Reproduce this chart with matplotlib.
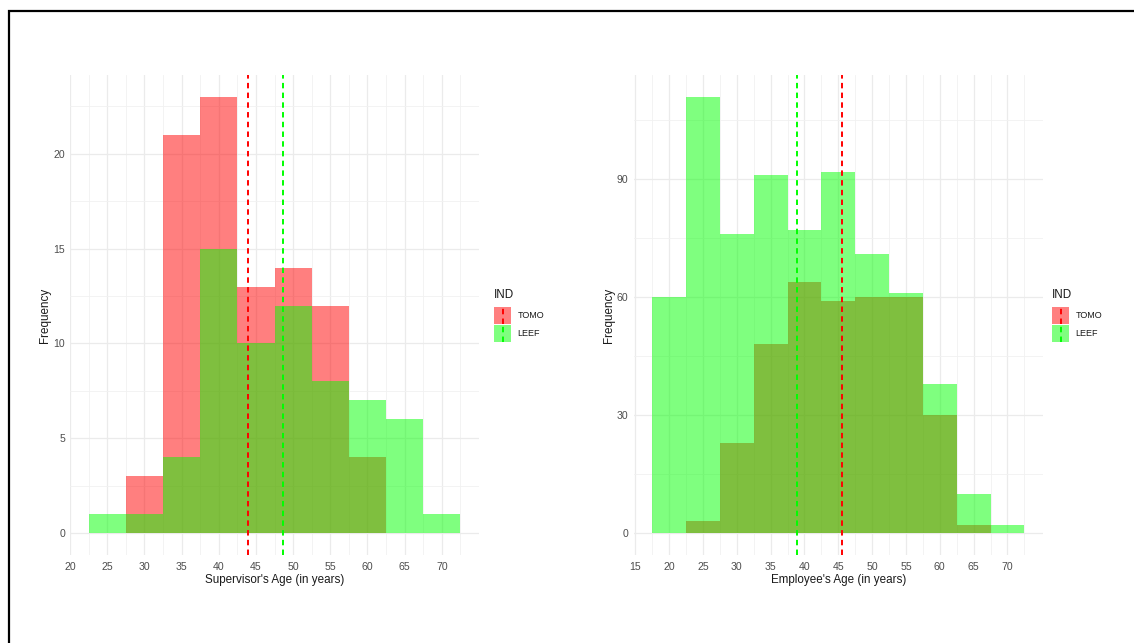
import matplotlib
matplotlib.use("Agg")
import matplotlib.pyplot as plt
import numpy as np
from matplotlib.patches import Rectangle
from matplotlib.lines import Line2D

# ---------------- data ----------------
group_labels = ["TOMO", "LEEF"]

sup_bin_centers = [25, 30, 35, 40, 45, 50, 55, 60, 65, 70]
sup_tomo = [0, 3, 21, 23, 13, 14, 12, 4, 0, 0]
sup_leef = [1, 1, 4, 15, 10, 12, 8, 7, 6, 1]
sup_means = {"TOMO": 43.9, "LEEF": 48.7}
sup_xticks = [20, 25, 30, 35, 40, 45, 50, 55, 60, 65, 70]
sup_yticks = [0, 5, 10, 15, 20]

emp_bin_centers = [20, 25, 30, 35, 40, 45, 50, 55, 60, 65, 70]
emp_tomo = [0, 3, 23, 48, 64, 59, 60, 60, 30, 2, 0]
emp_leef = [60, 111, 76, 91, 77, 92, 71, 61, 38, 10, 2]
emp_means = {"TOMO": 45.5, "LEEF": 38.9}
emp_xticks = [15, 20, 25, 30, 35, 40, 45, 50, 55, 60, 65, 70]
emp_yticks = [0, 30, 60, 90]

BIN_W = 5
COLORS = {"TOMO": "#FF0000", "LEEF": "#00FF00"}

plt.rcParams["font.family"] = ["Liberation Sans", "DejaVu Sans"]

W, H = 1134, 643
fig = plt.figure(figsize=(W / 100, H / 100), dpi=100)
fig.patch.set_facecolor("white")


def px_rect(x0, y0, x1, y1):
    return [x0 / W, 1 - y1 / H, (x1 - x0) / W, (y1 - y0) / H]


def fx(x):
    return x / W


def fy(y):
    return 1 - y / H


def panel(rect, centers, tomo, leef, means, xticks, yticks, xlabel, ylab_off_px):
    ax = fig.add_axes(rect)
    ax.set_facecolor("white")
    centers = np.asarray(centers, dtype=float)
    edges = np.concatenate([centers - BIN_W / 2, [centers[-1] + BIN_W / 2]])
    ax.stairs(tomo, edges, fill=True, color=COLORS["TOMO"], alpha=0.5, lw=0, zorder=2)
    ax.stairs(leef, edges, fill=True, color=COLORS["LEEF"], alpha=0.5, lw=0, zorder=3)
    for g in group_labels:
        ax.axvline(means[g], color=COLORS[g], lw=1.4, dashes=(2.8, 2.2), zorder=4)
    # limits with ggplot-like 5% expansion
    lo, hi = edges[0], edges[-1]
    ex = (hi - lo) * 0.05
    ax.set_xlim(lo - ex, hi + ex)
    ymax = max(max(tomo), max(leef))
    ax.set_ylim(-0.05 * ymax, 1.05 * ymax)
    ax.set_xticks(xticks)
    ax.set_yticks(yticks)
    xt = np.asarray(xticks, float)
    yt = np.asarray(yticks, float)
    step_x = xt[1] - xt[0]
    step_y = yt[1] - yt[0]
    ax.set_xticks(xt + step_x / 2, minor=True)
    ax.set_yticks(yt + step_y / 2, minor=True)
    ax.grid(which="major", color="#EBEBEB", lw=0.9, zorder=0)
    ax.grid(which="minor", color="#F1F1F1", lw=0.6, zorder=0)
    ax.set_axisbelow(True)
    for s in ax.spines.values():
        s.set_visible(False)
    ax.tick_params(which="both", length=0)
    ax.tick_params(axis="x", pad=5.0, labelsize=7.6, labelcolor="#4D4D4D")
    ax.tick_params(axis="y", pad=3.6, labelsize=7.6, labelcolor="#4D4D4D")
    ax.set_xlabel(xlabel, fontsize=8.4, color="#1A1A1A")
    ax.set_ylabel("Frequency", fontsize=8.4, color="#1A1A1A")
    axh = rect[3] * H
    axw = rect[2] * W
    ax.xaxis.set_label_coords(0.5, -24.5 / axh)
    ax.xaxis.label.set_va("center")
    ax.yaxis.set_label_coords(-ylab_off_px / axw, 0.5)
    ax.yaxis.label.set_va("center")
    return ax


ax1 = panel(px_rect(70, 75, 479, 555), sup_bin_centers, sup_tomo, sup_leef, sup_means,
            sup_xticks, sup_yticks, "Supervisor's Age (in years)", 24.5)
ax2 = panel(px_rect(633.6, 75, 1043, 555), emp_bin_centers, emp_tomo, emp_leef, emp_means,
            emp_xticks, emp_yticks, "Employee's Age (in years)", 24.6)


def legend(x_left, x_label):
    fig.text(fx(x_left), fy(295.5), "IND", fontsize=8.4, color="#1A1A1A", ha="left", va="center")
    key_y = [(307.0, 324.2), (324.8, 342.0)]
    label_y = [316.0, 333.8]
    kw = 17.6
    for g, (y0, y1), ly in zip(group_labels, key_y, label_y):
        fig.add_artist(Rectangle((fx(x_left + 0.3), fy(y1)), kw / W, (y1 - y0) / H,
                                 transform=fig.transFigure, facecolor=COLORS[g], alpha=0.5,
                                 lw=0))
        cx = fx(x_left + 0.3 + kw / 2)
        fig.add_artist(Line2D([cx, cx], [fy(y1), fy(y0)], transform=fig.transFigure,
                              color=COLORS[g], lw=1.4, dashes=(2.8, 2.2)))
        fig.text(fx(x_label), fy(ly), g, fontsize=6.5, color="#1A1A1A", ha="left", va="center")


legend(493.5, 517.7)
legend(1051.5, 1075.3)

# page frame (extends past the right and bottom edges)
fig.add_artist(Rectangle((fx(8.5), fy(700)), (1200 - 8.5) / W, (700 - 10.5) / H,
                         transform=fig.transFigure, fill=False, edgecolor="black",
                         lw=1.6, zorder=10))

fig.savefig("out.png", dpi=100, facecolor="white")
